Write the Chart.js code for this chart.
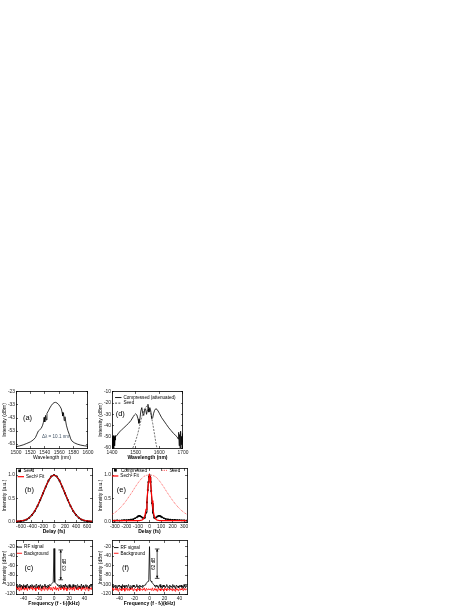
<!DOCTYPE html>
<html>
<head>
<meta charset="utf-8">
<script src="https://cdn.jsdelivr.net/npm/chart.js@4.4.1/dist/chart.umd.min.js"></script>
<style>
  body { margin: 0; background: #fff; width: 469px; height: 607px; overflow: hidden; position: relative; }
  canvas { position: absolute; }
</style>
</head>
<body>
<canvas id="pa"></canvas>
<canvas id="pd"></canvas>
<canvas id="pb"></canvas>
<canvas id="pe"></canvas>
<canvas id="pc"></canvas>
<canvas id="pf"></canvas>
<script>
// (a) seed spectrum
const aWl = [1500,1505,1510,1515,1520,1524,1527,1529,1531,1533,1535,1537,1538,1539,1540,1541,1542,1543,1545,1547,1549,1551,1553,1555,1557,1559,1561,1563,1564,1565,1566,1567,1568,1570,1572,1574,1576,1578,1581,1585,1590,1595,1600];
const aInt = [-65,-64.4,-63.6,-62.5,-61.3,-59.8,-58,-55.5,-53,-52,-51,-48.5,-46.5,-42.5,-46,-41,-44.5,-39.5,-37.5,-35.3,-33.5,-32,-31.2,-31,-31.5,-32.5,-34,-36,-38.5,-41.5,-39,-45,-42,-48.5,-52.5,-55.5,-59,-60.8,-62,-63,-63.8,-64.3,-64.6];
const aXTicks = [1500,1520,1540,1560,1580,1600];
const aYTicks = [-23,-33,-43,-53,-63];

// (d) compressed vs seed spectrum
const dWl = [1400,1401,1402,1403,1404,1405,1406,1407,1408,1409,1410,1411,1412,1413,1414,1415,
  1420,1430,1440,1450,1460,1470,1480,1490,1495,1500,1505,1510,1514,1518,1522,1526,1530,1534,1538,1542,
  1546,1550,1552,1554,1556,1560,1564,1568,1572,1576,1580,1585,1590,1595,1600,1610,1620,1630,1640,1650,
  1660,1670,1675,1680,1682,1684,1686,1688,1690,1692,1694,1696,1698,1700];
const dComp = [-58,-50,-60,-52,-59,-49,-57,-51,-60,-50,-55,-50,-58,-49,-53,-50,
  -49,-46,-44,-42,-40,-38,-35.5,-32,-30.5,-29.5,-30.5,-34,-38,-34,-27,-24,-29,-31,-26,-25,
  -30,-26,-21,-25,-28,-24,-27,-34,-33,-29,-26.5,-25,-25.5,-27,-29,-33,-36,-39,-42,-44.5,
  -47,-49,-50,-52,-46,-58,-48,-60,-45,-57,-50,-60,-47,-55];
const dSeedWl = [1488,1498,1508,1516,1524,1532,1540,1548,1556,1564,1572,1580,1586,1590];
const dSeed = [-60,-55,-48,-41,-34,-28,-24,-22.5,-24,-29,-38,-48,-56,-60];
const dXTicks = [1400,1500,1600,1700];
const dYTicks = [-10,-20,-30,-40,-50,-60];

// (b) seed autocorrelation
const bDelay = [-700,-650,-600,-550,-500,-450,-400,-350,-300,-250,-200,-150,-100,-50,0,50,100,150,200,250,300,350,400,450,500,550,600,650,700];
const bSeed = [0.01,0.01,0.02,0.03,0.05,0.09,0.15,0.23,0.34,0.47,0.61,0.75,0.88,0.97,1.0,0.97,0.88,0.75,0.61,0.47,0.34,0.23,0.15,0.09,0.05,0.03,0.02,0.01,0.01];
const bFit = [0.015,0.02,0.025,0.035,0.055,0.09,0.15,0.235,0.345,0.475,0.615,0.755,0.88,0.97,1.0,0.97,0.88,0.755,0.615,0.475,0.345,0.235,0.15,0.09,0.055,0.035,0.025,0.02,0.015];
const bXTicks = [-600,-400,-200,0,200,400,600];

// (e) compressed autocorrelation
const eDelay = [-320,-300,-280,-260,-240,-220,-200,-180,-160,-140,-125,-110,-100,-90,-80,-70,-60,-50,-40,-30,
  -22,-15,-10,-5,0,5,10,15,22,30,40,50,60,70,80,90,100,110,125,140,160,180,200,220,240,260,280,300,320];
const eComp = [0.03,0.03,0.035,0.03,0.035,0.04,0.04,0.045,0.05,0.06,0.08,0.1,0.12,0.13,0.125,0.11,0.09,0.08,0.09,0.2,
  0.42,0.68,0.85,0.96,1.0,0.96,0.85,0.66,0.4,0.2,0.09,0.08,0.1,0.12,0.13,0.13,0.115,0.1,0.08,0.065,0.055,0.05,0.045,0.045,0.04,0.04,0.035,0.035,0.03];
const eFit = [0.03,0.03,0.03,0.03,0.03,0.03,0.03,0.03,0.03,0.03,0.03,0.03,0.03,0.031,0.033,0.038,0.049,0.077,0.137,0.27,
  0.458,0.674,0.834,0.954,1.0,0.954,0.834,0.674,0.458,0.27,0.137,0.077,0.049,0.038,0.033,0.031,0.03,0.03,0.03,0.03,0.03,0.03,0.03,0.03,0.03,0.03,0.03,0.03,0.03];
const eSeedDelay = [-325,-300,-275,-250,-225,-200,-175,-150,-125,-100,-75,-50,-25,0,25,50,75,100,125,150,175,200,225,250,275,300,325];
const eSeed = [0.16,0.2,0.25,0.31,0.38,0.46,0.55,0.64,0.74,0.83,0.91,0.97,0.995,1.0,0.995,0.97,0.91,0.83,0.74,0.64,0.55,0.46,0.38,0.31,0.25,0.2,0.16];
const eXTicks = [-300,-200,-100,0,100,200,300];
const abYTicks = [0, 0.5, 1.0];

// (c), (f) RF spectra
const rfFreq = [-50,-49,-48,-47,-46,-45,-44,-43,-42,-41,-40,-39,-38,-37,-36,-35,-34,-33,-32,-31,
  -30,-29,-28,-27,-26,-25,-24,-23,-22,-21,-20,-19,-18,-17,-16,-15,-14,-13,-12,-11,
  -10,-9,-8,-7,-6,-5,-4,-3,-2,-1,0,1,2,3,4,5,6,7,8,9,10,
  11,12,13,14,15,16,17,18,19,20,21,22,23,24,25,26,27,28,29,30,
  31,32,33,34,35,36,37,38,39,40,41,42,43,44,45,46,47,48,49,50];
const cSignal = [-103,-100,-107,-102,-105,-99,-106,-101,-104,-108,
  -100,-105,-102,-107,-101,-99,-106,-103,-108,-101,
  -105,-100,-104,-107,-102,-106,-101,-99,-107,-103,
  -101,-106,-100,-104,-108,-102,-105,-103,-99,-106,
  -103,-107,-101,-105,-100,-102,-100,-98,-97,-95,
  -24,
  -95,-97,-98,-100,-102,-104,-101,-106,-100,-105,
  -107,-101,-104,-106,-99,-105,-102,-108,-103,-100,
  -106,-102,-104,-107,-100,-105,-103,-101,-108,-102,
  -100,-106,-103,-105,-108,-99,-104,-106,-101,-107,
  -103,-100,-106,-102,-105,-108,-101,-104,-99,-106];
const cBackground = [-108,-104,-111,-106,-113,-105,-109,-112,-103,-110,
  -106,-112,-104,-110,-107,-113,-105,-108,-111,-104,
  -109,-105,-112,-103,-110,-107,-113,-106,-109,-104,
  -111,-105,-108,-113,-104,-110,-106,-112,-103,-109,
  -107,-112,-105,-110,-104,-111,-106,-109,-113,-105,
  -108,
  -110,-104,-112,-107,-109,-113,-105,-108,-111,-104,
  -109,-106,-112,-103,-110,-107,-113,-105,-108,-111,
  -104,-110,-106,-112,-105,-109,-113,-104,-108,-111,
  -106,-112,-103,-109,-107,-113,-105,-110,-104,-108,
  -112,-105,-109,-106,-113,-104,-110,-107,-111,-105];
const fSignal = [-104,-100,-107,-102,-106,-101,-105,-108,-102,-104,
  -101,-106,-103,-108,-100,-105,-102,-107,-104,-101,
  -106,-103,-100,-105,-108,-102,-104,-107,-101,-105,
  -102,-107,-104,-100,-106,-103,-108,-101,-105,-103,
  -106,-101,-104,-102,
  -101,-99,-97,-95,-93,-90,-20,-90,-93,-95,-97,-99,-101,
  -103,-106,-101,-105,
  -102,-107,-104,-100,-106,-103,-108,-101,-105,-102,
  -107,-103,-100,-106,-104,-108,-101,-105,-103,-107,
  -100,-105,-102,-108,-104,-101,-106,-103,-107,-102,
  -105,-101,-106,-103,-108,-100,-104,-107,-102,-105];
const fBackground = [-110,-107,-113,-109,-111,-106,-112,-108,-114,-110,
  -107,-112,-109,-113,-106,-111,-108,-114,-110,-107,
  -112,-108,-110,-113,-107,-111,-109,-106,-113,-110,
  -108,-112,-110,-114,-107,-111,-109,-113,-108,-110,
  -112,-109,-111,-107,-113,-110,-108,-112,-110,-109,
  -111,
  -109,-112,-110,-107,-113,-111,-108,-112,-109,-114,
  -110,-107,-112,-109,-113,-108,-111,-110,-114,-107,
  -111,-109,-113,-108,-110,-112,-107,-111,-109,-113,
  -108,-112,-110,-114,-107,-111,-109,-113,-110,-108,
  -112,-109,-111,-107,-113,-110,-108,-112,-110,-109];
const rfXTicks = [-40,-20,0,20,40];
const rfYTicks = [-20,-40,-60,-80,-100,-120];

Chart.defaults.font.family = "'Liberation Sans', Arial, sans-serif";
Chart.defaults.color = '#000';

const pts = (xs, ys) => xs.map((x, i) => ({x: x, y: ys[i]}));

// texts, legends and the dB bracket, placed in data units via the scales
const decor = {
  id: 'decor',
  afterDatasetsDraw(chart, args, o) {
    const ctx = chart.ctx;
    const X = v => chart.scales.x.getPixelForValue(v);
    const Y = v => chart.scales.y.getPixelForValue(v);
    const fam = Chart.defaults.font.family;
    ctx.save();
    (o.legend || []).forEach(it => {
      const ds = chart.data.datasets[it.ds];
      const y = Y(it.y);
      ctx.strokeStyle = ds.borderColor;
      ctx.fillStyle = ds.borderColor;
      ctx.lineWidth = it.lw || 0.9;
      ctx.setLineDash(ds.borderDash || []);
      if (it.sample === 'square') {
        const cx = (X(it.x0) + X(it.x1)) / 2;
        ctx.fillRect(cx - 1.3, y - 1.3, 2.6, 2.6);
      } else {
        ctx.beginPath();
        ctx.moveTo(X(it.x0), y);
        ctx.lineTo(X(it.x1), y);
        ctx.stroke();
      }
      ctx.setLineDash([]);
      ctx.fillStyle = '#000';
      ctx.font = '4.6px ' + fam;
      ctx.textAlign = 'left';
      ctx.textBaseline = 'middle';
      ctx.fillText(it.text, X(it.x1) + 2, y);
    });
    (o.texts || []).forEach(t => {
      ctx.fillStyle = t.color || '#000';
      ctx.font = (t.bold ? 'bold ' : '') + t.size + 'px ' + fam;
      ctx.textAlign = t.align || 'center';
      ctx.textBaseline = 'middle';
      ctx.save();
      ctx.translate(X(t.x), Y(t.y));
      if (t.rotate) ctx.rotate(-Math.PI / 2);
      ctx.fillText(t.text, 0, 0);
      ctx.restore();
    });
    if (o.bracket) {
      const b = o.bracket, bx = X(b.x), y1 = Y(b.y1), y2 = Y(b.y2);
      ctx.strokeStyle = '#000';
      ctx.fillStyle = '#000';
      ctx.lineWidth = 0.7;
      ctx.beginPath();
      ctx.moveTo(bx, y1); ctx.lineTo(bx, y2);
      ctx.moveTo(bx - 2.3, y1); ctx.lineTo(bx + 2.3, y1);
      ctx.moveTo(bx - 2.3, y2); ctx.lineTo(bx + 2.3, y2);
      ctx.stroke();
      ctx.beginPath();
      ctx.moveTo(bx, y1); ctx.lineTo(bx - 1.2, y1 + 2.6); ctx.lineTo(bx + 1.2, y1 + 2.6); ctx.closePath();
      ctx.moveTo(bx, y2); ctx.lineTo(bx - 1.2, y2 - 2.6); ctx.lineTo(bx + 1.2, y2 - 2.6); ctx.closePath();
      ctx.fill();
    }
    ctx.restore();
  }
};

// plot rectangle r -> canvas around it (y axis 14 px, x axis 13 px)
function place(cv, r) {
  const left = r.l - 16, top = r.t - 5;
  const w = r.r - left + 5, h = r.b + 13 - top;
  cv.width = w; cv.height = h;
  cv.style.left = left + 'px'; cv.style.top = top + 'px';
  cv.style.width = w + 'px'; cv.style.height = h + 'px';
}

function axis(pos, key, min, max, ticks, show, title, fmt, bold) {
  return {
    type: 'linear', axis: key, position: pos, min: min, max: max,
    afterBuildTicks: s => { s.ticks = ticks.map(v => ({value: v})); },
    afterFit: s => {
      if (pos === 'left') s.width = 14;
      else if (pos === 'bottom') s.height = 13;
      else if (pos === 'right') s.width = 0;
      else s.height = 0;
    },
    border: {display: true, color: '#000', width: 0.8},
    grid: {drawOnChartArea: false, drawTicks: true, tickLength: -2, color: '#000', lineWidth: 0.6},
    ticks: {display: show, padding: pos === 'bottom' ? 3.6 : 3, autoSkip: false, maxRotation: 0, color: '#222',
            font: {size: 4.9}, callback: v => fmt(v)},
    title: {display: show, text: title, padding: 0, color: '#000',
            font: {size: 5, weight: bold ? 'bold' : 'normal'}}
  };
}

const plain = v => String(v);
const oneDec = v => v.toFixed(1);

function panel(id, rect, datasets, ax, deco) {
  const cv = document.getElementById(id);
  place(cv, rect);
  new Chart(cv, {
    type: 'scatter',
    data: {datasets: datasets},
    options: {
      responsive: false, animation: false, devicePixelRatio: 1,
      layout: {padding: {left: 2, top: 5, right: 5, bottom: 0}},
      plugins: {legend: {display: false}, tooltip: {enabled: false}, decor: deco},
      scales: {
        x: axis('bottom', 'x', ax.xMin, ax.xMax, ax.xTicks, true, ax.xTitle, plain, ax.xBold),
        x2: axis('top', 'x', ax.xMin, ax.xMax, ax.xTicks, false, '', plain, false),
        y: axis('left', 'y', ax.yMin, ax.yMax, ax.yTicks, true, ax.yTitle, ax.yFmt || plain, false),
        y2: axis('right', 'y', ax.yMin, ax.yMax, ax.yTicks, false, '', plain, false)
      }
    },
    plugins: [decor]
  });
}

const line = (data, color, width, extra) => Object.assign({
  data: data, showLine: true, borderColor: color, backgroundColor: color,
  borderWidth: width, pointRadius: 0, tension: 0
}, extra || {});

// (a)
panel('pa', {l: 16, t: 391, r: 92, b: 448},
  [line(pts(aWl, aInt), '#000', 0.8)],
  {xMin: 1500, xMax: 1600, xTicks: aXTicks, xTitle: 'Wavelength (nm)', xBold: false,
   yMin: -66, yMax: -23, yTicks: aYTicks, yTitle: 'Intensity (dBm)'},
  {texts: [{text: '(a)', x: 1516, y: -43, size: 7.5},
           {text: 'Δλ = 10.1 nm', x: 1536, y: -57.5, size: 4.6, align: 'left', color: '#445566'}]});

// (d)
panel('pd', {l: 112, t: 391, r: 187, b: 448},
  [line(pts(dWl, dComp), '#000', 0.8),
   line(pts(dSeedWl, dSeed), '#333', 0.7, {borderDash: [2, 1.3]})],
  {xMin: 1400, xMax: 1700, xTicks: dXTicks, xTitle: 'Wavelength (nm)', xBold: true,
   yMin: -60, yMax: -10, yTicks: dYTicks, yTitle: 'Intensity (dBm)'},
  {texts: [{text: '(d)', x: 1435, y: -30, size: 7.5}],
   legend: [{ds: 0, x0: 1413, x1: 1440, y: -15, text: 'Compressed (attenuated)'},
            {ds: 1, x0: 1413, x1: 1440, y: -20, text: 'Seed'}]});

// (b)
panel('pb', {l: 16, t: 468, r: 92, b: 522},
  [line(pts(bDelay, bFit), '#ff0000', 1),
   line(pts(bDelay, bSeed), '#000', 1.4, {pointRadius: 1.2, pointStyle: 'rect', pointBorderWidth: 0})],
  {xMin: -690, xMax: 690, xTicks: bXTicks, xTitle: 'Delay (fs)', xBold: true,
   yMin: 0, yMax: 1.13, yTicks: abYTicks, yTitle: 'Intensity (a.u.)', yFmt: oneDec},
  {texts: [{text: '(b)', x: -446, y: 0.68, size: 7.5}],
   legend: [{ds: 1, sample: 'square', x0: -660, x1: -590, y: 1.09, text: 'Seed'},
            {ds: 0, x0: -660, x1: -545, y: 0.965, text: 'Sech² Fit', lw: 1.2}]});

// (e)
panel('pe', {l: 112, t: 468, r: 187, b: 522},
  [line(pts(eSeedDelay, eSeed), '#ff2020', 0.8, {borderDash: [0.8, 1]}),
   line(pts(eDelay, eFit), '#ff0000', 1.2),
   line(pts(eDelay, eComp), '#000', 1, {pointRadius: 1.2, pointStyle: 'rect', pointBorderWidth: 0})],
  {xMin: -325, xMax: 325, xTicks: eXTicks, xTitle: 'Delay (fs)', xBold: true,
   yMin: 0, yMax: 1.13, yTicks: abYTicks, yTitle: 'Intensity (a.u.)', yFmt: oneDec},
  {texts: [{text: '(e)', x: -244, y: 0.68, size: 7.5}],
   legend: [{ds: 2, sample: 'square', x0: -325, x1: -265, y: 1.1, text: 'Compressed'},
            {ds: 1, x0: -324, x1: -270, y: 0.98, text: 'Sech² Fit', lw: 1.2},
            {ds: 0, x0: 112, x1: 156, y: 1.1, text: 'Seed'}]});

// (c)
panel('pc', {l: 16, t: 540, r: 92, b: 594},
  [line(pts(rfFreq, cSignal), '#000', 0.8),
   line(pts(rfFreq, cBackground), '#ff0000', 0.8)],
  {xMin: -50, xMax: 50, xTicks: rfXTicks, xTitle: 'Frequency (f - fᵣ)(kHz)', xBold: true,
   yMin: -120, yMax: -8, yTicks: rfYTicks, yTitle: 'Intensity (dBm)'},
  {texts: [{text: '(c)', x: -33, y: -64, size: 7.5},
           {text: '63 dB', x: 13.8, y: -58, size: 4.6, rotate: true}],
   legend: [{ds: 0, x0: -49, x1: -42, y: -21, text: 'RF signal'},
            {ds: 1, x0: -49, x1: -42, y: -34, text: 'Background'}],
   bracket: {x: 8.9, y1: -27, y2: -90}});

// (f)
panel('pf', {l: 112, t: 540, r: 187, b: 594},
  [line(pts(rfFreq, fSignal), '#000', 0.8),
   line(pts(rfFreq, fBackground), '#ff0000', 0.8)],
  {xMin: -50, xMax: 50, xTicks: rfXTicks, xTitle: 'Frequency (f - fᵣ)(kHz)', xBold: true,
   yMin: -120, yMax: -8, yTicks: rfYTicks, yTitle: 'Intensity (dBm)'},
  {texts: [{text: '(f)', x: -32, y: -64, size: 7.5},
           {text: '62 dB', x: 6.3, y: -56, size: 4.6, rotate: true}],
   legend: [{ds: 0, x0: -47.5, x1: -41.3, y: -22, text: 'RF signal'},
            {ds: 1, x0: -47.5, x1: -41.3, y: -34, text: 'Background'}],
   bracket: {x: 10.2, y1: -25, y2: -87}});
</script>
</body>
</html>
